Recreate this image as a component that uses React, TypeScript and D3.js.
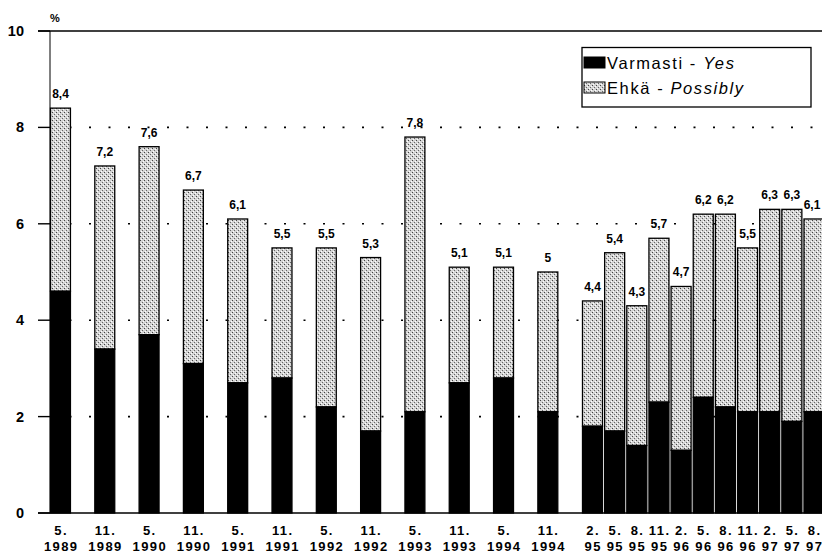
import React from "react";
import * as d3 from "d3";

const monthLabels = ["5.", "11.", "5.", "11.", "5.", "11.", "5.", "11.", "5.", "11.", "5.", "11.",
  "2.", "5.", "8.", "11.", "2.", "5.", "8.", "11.", "2.", "5.", "8."];
const yearLabels = ["1989", "1989", "1990", "1990", "1991", "1991", "1992", "1992", "1993", "1993", "1994", "1994",
  "95", "95", "95", "95", "96", "96", "96", "96", "97", "97", "97"];
const totalValues = [8.4, 7.2, 7.6, 6.7, 6.1, 5.5, 5.5, 5.3, 7.8, 5.1, 5.1, 5.0,
  4.4, 5.4, 4.3, 5.7, 4.7, 6.2, 6.2, 5.5, 6.3, 6.3, 6.1];
const yesValues = [4.6, 3.4, 3.7, 3.1, 2.7, 2.8, 2.2, 1.7, 2.1, 2.7, 2.8, 2.1,
  1.8, 1.7, 1.4, 2.3, 1.3, 2.4, 2.2, 2.1, 2.1, 1.9, 2.1];
const yTicks = [0, 2, 4, 6, 8, 10];
const firstGroupCount = 12;
const legendItems = ["Varmasti", "Ehkä"];
const legendItalic = ["Yes", "Possibly"];

const W = 822;
const H = 559;
const FONT = "Liberation Sans, Arial, Helvetica, sans-serif";

export default function App() {
  const y = d3.scaleLinear().domain([0, 10]).range([513, 31]);
  const idx = d3.range(totalValues.length);
  const g1 = idx.slice(0, firstGroupCount);
  const g2 = idx.slice(firstGroupCount);
  const x1 = d3.scaleBand<number>().domain(g1).range([50.5, 557.8]).paddingInner(0.55).paddingOuter(0);
  const x2 = d3.scaleBand<number>().domain(g2).range([582.5, 824]).paddingInner(0.097).paddingOuter(0);
  const xPos = (i: number) => (i < firstGroupCount ? (x1(i) as number) : (x2(i) as number));
  const bw = (i: number) => (i < firstGroupCount ? x1.bandwidth() : x2.bandwidth());
  const fmt = (v: number) => (Number.isInteger(v) ? String(v) : v.toFixed(1).replace(".", ","));

  return (
    <div style={{ position: "fixed", left: 0, top: 0, width: W, height: H, overflow: "hidden" }}>
      <svg width={W} height={H} style={{ display: "block", background: "#fff" }} fontFamily={FONT}>
        <defs>
          <pattern id="stip" width="4" height="4" patternUnits="userSpaceOnUse">
            <rect width="4" height="4" fill="#d4d4d4" />
            <rect x="0" y="0" width="1" height="1" fill="#444" />
            <rect x="2" y="2" width="1" height="1" fill="#666" />
            <rect x="3" y="1" width="1" height="1" fill="#fff" />
            <rect x="1" y="3" width="1" height="1" fill="#fff" />
          </pattern>
        </defs>
        {/* grid lines */}
        {yTicks.filter((t) => t > 0 && t < 10).map((t) => (
          <line key={"g" + t} x1={50} x2={W} y1={y(t)} y2={y(t)} stroke="#000" strokeWidth={1.6}
            strokeDasharray="2 17.5" />
        ))}
        {/* top line */}
        <line x1={38} x2={W} y1={y(10)} y2={y(10)} stroke="#000" strokeWidth={1.6} />
        {/* y ticks and labels */}
        {yTicks.map((t) => (
          <g key={"t" + t}>
            <line x1={38} x2={50} y1={y(t)} y2={y(t)} stroke="#000" strokeWidth={1.4} />
            <text x={24} y={y(t) + 5} textAnchor="end" fontSize={14.5} fontWeight="bold">{t}</text>
          </g>
        ))}
        <text x={55} y={22} textAnchor="middle" fontSize={11} fontWeight="bold">%</text>
        {/* y axis */}
        <line x1={50} x2={50} y1={y(10)} y2={y(0)} stroke="#000" strokeWidth={1} />
        {/* bars */}
        {idx.map((i) => {
          const x = xPos(i);
          const w = bw(i);
          const cx = x + w / 2;
          return (
            <g key={"b" + i}>
              <rect x={x} y={y(totalValues[i])} width={w} height={y(yesValues[i]) - y(totalValues[i])}
                fill="url(#stip)" stroke="#000" strokeWidth={1.3} />
              <rect x={x} y={y(yesValues[i])} width={w} height={y(0) - y(yesValues[i])}
                fill="#000" stroke="#000" strokeWidth={1.3} />
              <text x={Math.min(cx, 812)} y={y(totalValues[i]) - 10} textAnchor="middle" fontSize={12}
                fontWeight="bold">{fmt(totalValues[i])}</text>
              <text x={cx + 0.7} y={535} textAnchor="middle" fontSize={13} fontWeight="bold"
                letterSpacing={1.4}>{monthLabels[i]}</text>
              <text x={cx + 0.7} y={551} textAnchor="middle" fontSize={13} fontWeight="bold"
                letterSpacing={1.4}>{yearLabels[i]}</text>
            </g>
          );
        })}
        {/* baseline */}
        <line x1={38} x2={W} y1={y(0)} y2={y(0)} stroke="#000" strokeWidth={1.6} />
        {/* legend */}
        <rect x={582} y={47.5} width={229} height={59.5} fill="#fff" stroke="#000" strokeWidth={1.3} />
        {legendItems.map((lab, k) => (
          <g key={"l" + k} transform={`translate(0, ${k * 25})`}>
            <rect x={584} y={57} width={21} height={11} fill={k === 0 ? "#000" : "url(#stip)"}
              stroke="#000" strokeWidth={1} />
            <text x={607} y={69} fontSize={16.5} letterSpacing={1.6}>
              {lab}
              <tspan>{"\u00a0-\u00a0"}</tspan>
              <tspan fontStyle="italic">{legendItalic[k]}</tspan>
            </text>
          </g>
        ))}
      </svg>
    </div>
  );
}
